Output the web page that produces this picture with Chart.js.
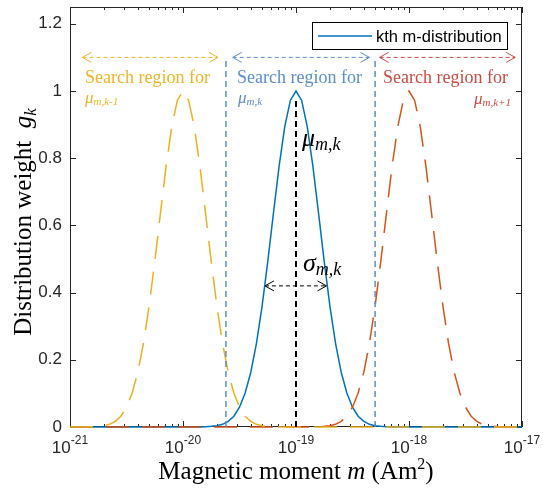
<!DOCTYPE html>
<html>
<head>
<meta charset="utf-8">
<script src="https://cdn.jsdelivr.net/npm/chart.js@4.4.0/dist/chart.umd.min.js"></script>
<style>
  html, body { margin: 0; padding: 0; background: #fff; }
  #wrap { width: 543px; height: 488px; }
</style>
</head>
<body>
<div id="wrap"><canvas id="distChart" width="543" height="488"></canvas></div>
<script>
// Axis ticks
const xTickExps = [-21, -20, -19, -18, -17];
const yTicks = [0, 0.2, 0.4, 0.6, 0.8, 1, 1.2];

// (k-1)th distribution, log10(m) positions and weights
const prevLogM = [-21, -20.85, -20.8, -20.75, -20.7, -20.65, -20.6, -20.55, -20.5, -20.45, -20.4, -20.35, -20.3,
  -20.25, -20.2, -20.15, -20.1, -20.05, -20, -19.95, -19.9, -19.85, -19.8, -19.75, -19.7, -19.65, -19.6,
  -19.55, -19.5, -19.45, -19.4, -19.35, -19.3, -19.25, -19.2, -19.15, -17];
const prevWeight = [0, 0, 0.001, 0.002, 0.004, 0.008, 0.017, 0.032, 0.059, 0.101, 0.163, 0.249, 0.36,
  0.492, 0.635, 0.775, 0.893, 0.972, 1, 0.972, 0.893, 0.775, 0.635, 0.492, 0.36, 0.249, 0.163,
  0.101, 0.059, 0.032, 0.017, 0.008, 0.004, 0.002, 0.001, 0, 0];

// kth distribution
const kthLogM = [-21, -19.85, -19.8, -19.75, -19.7, -19.65, -19.6, -19.55, -19.5, -19.45, -19.4, -19.35, -19.3,
  -19.25, -19.2, -19.15, -19.1, -19.05, -19, -18.95, -18.9, -18.85, -18.8, -18.75, -18.7, -18.65, -18.6,
  -18.55, -18.5, -18.45, -18.4, -18.35, -18.3, -18.25, -18.2, -18.15, -17];
const kthWeight = [0, 0, 0.001, 0.002, 0.004, 0.008, 0.017, 0.032, 0.059, 0.101, 0.163, 0.249, 0.36,
  0.492, 0.635, 0.775, 0.893, 0.972, 1, 0.972, 0.893, 0.775, 0.635, 0.492, 0.36, 0.249, 0.163,
  0.101, 0.059, 0.032, 0.017, 0.008, 0.004, 0.002, 0.001, 0, 0];

// (k+1)th distribution
const nextLogM = [-21, -18.85, -18.8, -18.75, -18.7, -18.65, -18.6, -18.55, -18.5, -18.45, -18.4, -18.35, -18.3,
  -18.25, -18.2, -18.15, -18.1, -18.05, -18, -17.95, -17.9, -17.85, -17.8, -17.75, -17.7, -17.65, -17.6,
  -17.55, -17.5, -17.45, -17.4, -17.35, -17.3, -17.25, -17.2, -17.15, -17];
const nextWeight = [0, 0, 0.001, 0.002, 0.004, 0.008, 0.017, 0.032, 0.059, 0.101, 0.163, 0.249, 0.36,
  0.492, 0.635, 0.775, 0.893, 0.972, 1, 0.972, 0.893, 0.775, 0.635, 0.492, 0.36, 0.249, 0.163,
  0.101, 0.059, 0.032, 0.017, 0.008, 0.004, 0.002, 0.001, 0, 0];

// search region edges and sigma span (log10 m)
const regionEdges = [-19.62, -18.3];
const sigmaSpan = [-19.275, -18.73];

const SERIF = '"Liberation Serif", "Times New Roman", serif';
const SANS = '"Liberation Sans", Arial, sans-serif';
const AXIS = '#262626';

const toPoints = (logM, w) => logM.map((e, i) => ({ x: Math.pow(10, e), y: w[i] }));

// text made of pieces with their own font and vertical shift
function drawRich(ctx, parts, x, y, align) {
  let total = 0;
  parts.forEach(p => { ctx.font = p.font; p.w = ctx.measureText(p.t).width; total += p.w; });
  let cx = align === 'center' ? x - total / 2 : align === 'right' ? x - total : x;
  ctx.textAlign = 'left';
  ctx.textBaseline = 'alphabetic';
  parts.forEach(p => { ctx.font = p.font; ctx.fillText(p.t, cx, y + (p.dy || 0)); cx += p.w; });
}

function dottedArrow(ctx, x1, x2, y, color) {
  ctx.save();
  ctx.strokeStyle = color;
  ctx.lineWidth = 1;
  ctx.setLineDash([4, 3]);
  ctx.beginPath(); ctx.moveTo(x1, y); ctx.lineTo(x2, y); ctx.stroke();
  ctx.setLineDash([]);
  ctx.beginPath();
  ctx.moveTo(x1 + 9, y - 5); ctx.lineTo(x1, y); ctx.lineTo(x1 + 9, y + 5);
  ctx.moveTo(x2 - 9, y - 5); ctx.lineTo(x2, y); ctx.lineTo(x2 - 9, y + 5);
  ctx.stroke();
  ctx.restore();
}

function vDash(ctx, px, y0, y1, color, width, dash) {
  ctx.save();
  ctx.strokeStyle = color;
  ctx.lineWidth = width;
  ctx.setLineDash(dash);
  ctx.beginPath(); ctx.moveTo(px, y0); ctx.lineTo(px, y1); ctx.stroke();
  ctx.restore();
}

// MATLAB-like box, ticks and labels (under the data)
const axesPlugin = {
  id: 'matlabAxes',
  beforeDatasetsDraw(chart) {
    const { ctx, chartArea: a, scales: { x, y } } = chart;
    ctx.save();
    ctx.strokeStyle = AXIS;
    ctx.lineWidth = 1;
    ctx.strokeRect(a.left + 0.5, a.top + 0.5, a.right - a.left - 1, a.bottom - a.top - 1);

    ctx.beginPath();
    xTickExps.forEach((e, i) => {
      const px = Math.round(x.getPixelForValue(Math.pow(10, e))) + 0.5;
      ctx.moveTo(px, a.bottom); ctx.lineTo(px, a.bottom - 6);
      ctx.moveTo(px, a.top); ctx.lineTo(px, a.top + 6);
      if (i < xTickExps.length - 1) {
        for (let k = 2; k <= 9; k++) {
          const mx = Math.round(x.getPixelForValue(k * Math.pow(10, e))) + 0.5;
          ctx.moveTo(mx, a.bottom); ctx.lineTo(mx, a.bottom - 3);
          ctx.moveTo(mx, a.top); ctx.lineTo(mx, a.top + 3);
        }
      }
    });
    yTicks.forEach(v => {
      const py = Math.round(y.getPixelForValue(v)) + 0.5;
      ctx.moveTo(a.left, py); ctx.lineTo(a.left + 6, py);
      ctx.moveTo(a.right, py); ctx.lineTo(a.right - 6, py);
    });
    ctx.stroke();

    ctx.fillStyle = AXIS;
    ctx.font = '17px ' + SANS;
    ctx.textAlign = 'right';
    ctx.textBaseline = 'middle';
    yTicks.forEach(v => ctx.fillText(String(v), a.left - 8, y.getPixelForValue(v)));

    xTickExps.forEach(e => {
      drawRich(ctx, [
        { t: '10', font: '17px ' + SANS },
        { t: String(e), font: '12px ' + SANS, dy: -9 }
      ], x.getPixelForValue(Math.pow(10, e)), a.bottom + 26, 'center');
    });

    ctx.fillStyle = '#000';
    drawRich(ctx, [
      { t: 'Magnetic moment ', font: '25px ' + SERIF },
      { t: 'm', font: 'italic 25px ' + SERIF },
      { t: ' (Am', font: '25px ' + SERIF },
      { t: '2', font: '16px ' + SERIF, dy: -10 },
      { t: ')', font: '25px ' + SERIF }
    ], (a.left + a.right) / 2, 479, 'center');

    ctx.save();
    ctx.translate(31, 222);
    ctx.rotate(-Math.PI / 2);
    drawRich(ctx, [
      { t: 'Distribution weight  ', font: '25px ' + SERIF },
      { t: 'g', font: 'italic 25px ' + SERIF },
      { t: 'k', font: 'italic 17px ' + SERIF, dy: 5 }
    ], 0, 0, 'center');
    ctx.restore();
    ctx.restore();
  },

  // annotations over the data
  afterDatasetsDraw(chart) {
    const { ctx, scales: { x, y } } = chart;
    const px = e => x.getPixelForValue(Math.pow(10, e));
    const yTop = y.getPixelForValue(1.1);
    const y0 = y.getPixelForValue(0);
    const cYel = '#F2B425', cBlu = '#5B8ECD', cRed = '#CC4A45';

    regionEdges.forEach(e => vDash(ctx, px(e), y0, yTop, cBlu, 1.5, [6, 4]));
    vDash(ctx, px(-19), y0, y.getPixelForValue(0.975), '#000', 2, [6, 4]);

    dottedArrow(ctx, px(-20.89), px(-19.69), yTop, cYel);
    dottedArrow(ctx, px(-19.56), px(-18.35), yTop, cBlu);
    dottedArrow(ctx, px(-18.26), px(-17.06), yTop, cRed);
    dottedArrow(ctx, px(sigmaSpan[0]), px(sigmaSpan[1]), y.getPixelForValue(0.42), '#000');

    const sf = '18px ' + SERIF;
    ctx.fillStyle = cYel;
    drawRich(ctx, [{ t: 'Search region for', font: sf }], 85, 83, 'left');
    drawRich(ctx, [{ t: 'μ', font: 'italic 17px ' + SERIF },
      { t: 'm,k-1', font: 'italic 11px ' + SERIF, dy: 2 }], 85, 103, 'left');
    ctx.fillStyle = cBlu;
    drawRich(ctx, [{ t: 'Search region for', font: sf }], 237, 83, 'left');
    drawRich(ctx, [{ t: 'μ', font: 'italic 17px ' + SERIF },
      { t: 'm,k', font: 'italic 11px ' + SERIF, dy: 2 }], 238, 103, 'left');
    ctx.fillStyle = cRed;
    drawRich(ctx, [{ t: 'Search region for', font: sf }], 383, 83, 'left');
    drawRich(ctx, [{ t: 'μ', font: 'italic 17px ' + SERIF },
      { t: 'm,k+1', font: 'italic 11px ' + SERIF, dy: 2 }], 511, 104, 'right');

    ctx.fillStyle = '#000';
    drawRich(ctx, [{ t: 'μ', font: 'italic 26px ' + SERIF },
      { t: 'm,k', font: 'italic 18px ' + SERIF, dy: 4 }], 302, 146, 'left');
    drawRich(ctx, [{ t: 'σ', font: 'italic 26px ' + SERIF },
      { t: 'm,k', font: 'italic 18px ' + SERIF, dy: 4 }], 303, 271, 'left');

    // legend box
    ctx.save();
    ctx.fillStyle = '#fff';
    ctx.fillRect(312, 22, 195, 27);
    ctx.strokeStyle = '#000';
    ctx.lineWidth = 1;
    ctx.strokeRect(312.5, 22.5, 195, 27);
    ctx.strokeStyle = '#0072BD';
    ctx.lineWidth = 1.5;
    ctx.beginPath(); ctx.moveTo(318, 36); ctx.lineTo(372, 36); ctx.stroke();
    ctx.fillStyle = '#000';
    ctx.font = '16.5px ' + SANS;
    ctx.textAlign = 'left';
    ctx.textBaseline = 'middle';
    ctx.fillText('kth m-distribution', 376, 37);
    ctx.restore();
  }
};

const ctx = document.getElementById('distChart').getContext('2d');
new Chart(ctx, {
  type: 'scatter',
  data: {
    datasets: [
      {
        label: '(k-1)th m-distribution',
        data: toPoints(prevLogM, prevWeight),
        showLine: true, borderColor: '#EDB120', borderWidth: 1.5,
        borderDash: [23, 13], pointRadius: 0, clip: 4
      },
      {
        label: '(k+1)th m-distribution',
        data: toPoints(nextLogM, nextWeight),
        showLine: true, borderColor: '#D95319', borderWidth: 1.5,
        borderDash: [23, 13], pointRadius: 0, clip: 4
      },
      {
        label: 'kth m-distribution',
        data: toPoints(kthLogM, kthWeight),
        showLine: true, borderColor: '#0072BD', borderWidth: 1.5,
        pointRadius: 0, clip: 4
      }
    ]
  },
  options: {
    responsive: false,
    animation: false,
    events: [],
    layout: { padding: { left: 70, right: 21, top: 7, bottom: 61 } },
    scales: {
      x: { type: 'logarithmic', min: 1e-21, max: 1e-17, display: false },
      y: { type: 'linear', min: 0, max: 1.25, display: false }
    },
    plugins: { legend: { display: false }, tooltip: { enabled: false } }
  },
  plugins: [axesPlugin]
});
</script>
</body>
</html>
